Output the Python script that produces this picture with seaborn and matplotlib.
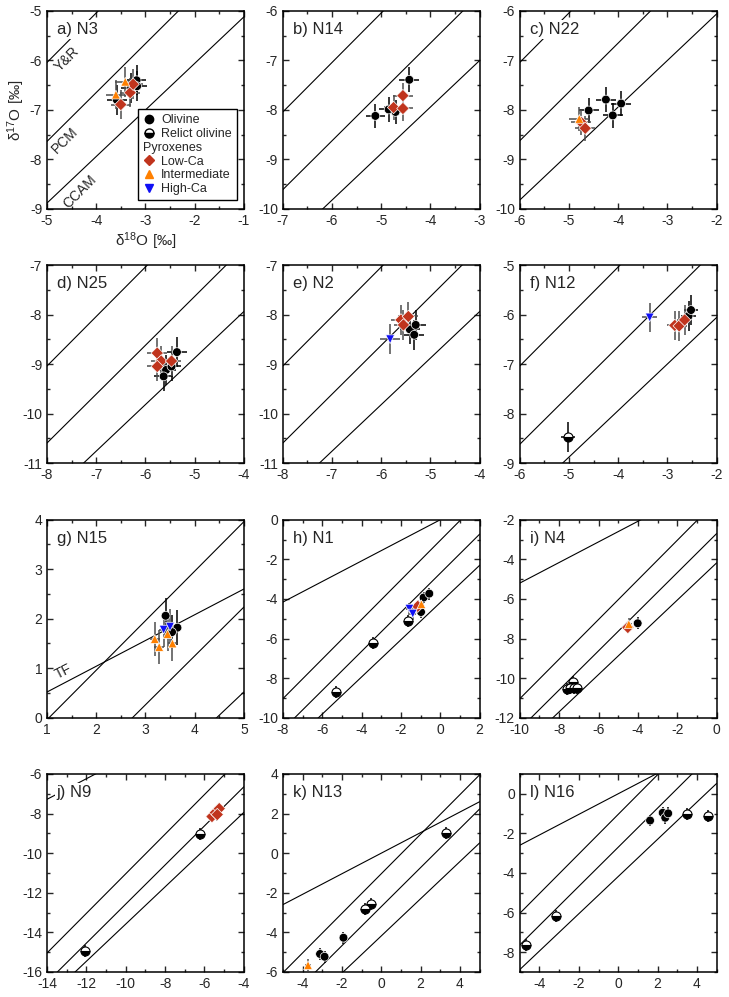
import numpy as np
import pandas as pd
import seaborn as sns
import matplotlib.pyplot as plt
from matplotlib.lines import Line2D
from matplotlib.ticker import MultipleLocator

sns.set_style('ticks')
plt.rcParams['font.family'] = ['Liberation Sans', 'DejaVu Sans']
plt.rcParams['axes.unicode_minus'] = False
plt.rcParams['mathtext.default'] = 'regular'

# panel setup
panel_ids = ['N3', 'N14', 'N22', 'N25', 'N2', 'N12', 'N15', 'N1', 'N4', 'N9', 'N13', 'N16']
panel_letters = ['a', 'b', 'c', 'd', 'e', 'f', 'g', 'h', 'i', 'j', 'k', 'l']
xlims = [(-5, -1), (-7, -3), (-6, -2), (-8, -4), (-8, -4), (-6, -2),
         (1, 5), (-8, 2), (-10, 0), (-14, -4), (-5, 5), (-5, 5)]
ylims = [(-9, -5), (-10, -6), (-10, -6), (-11, -7), (-11, -7), (-9, -5),
         (0, 4), (-10, 0), (-12, -2), (-16, -6), (-6, 4), (-9, 1)]
major_step = [1, 1, 1, 1, 1, 1, 1, 2, 2, 2, 2, 2]
err18 = [0.2, 0.2, 0.2, 0.2, 0.2, 0.15, 0.1, 0.15, 0.15, 0.15, 0.15, 0.15]
err17 = [0.3, 0.25, 0.25, 0.3, 0.3, 0.3, 0.35, 0.3, 0.3, 0.3, 0.3, 0.3]

# reference lines: TF, Y&R, PCM, CCAM
line_names = ['TF', 'Y&R', 'PCM', 'CCAM']
line_slopes = [0.52, 1.0, 0.987, 0.94]
line_intercepts = [0.0, -1.04, -2.70, -4.18]

# olivine
ol_panel = ['N3', 'N3', 'N3', 'N3', 'N14', 'N14', 'N14', 'N14', 'N22', 'N22', 'N22', 'N22',
            'N25', 'N25', 'N25', 'N25', 'N2', 'N2', 'N2', 'N12', 'N12', 'N15', 'N15', 'N15',
            'N1', 'N1', 'N1', 'N4', 'N13', 'N13', 'N13', 'N16', 'N16', 'N16', 'N16']
ol_d18 = [-3.58, -3.29, -3.18, -3.17, -5.12, -4.85, -4.71, -4.43, -4.60, -4.25, -3.94, -4.11,
          -5.58, -5.63, -5.47, -5.36, -5.42, -5.30, -5.33, -2.57, -2.52, 3.41, 3.65, 3.54,
          -0.98, -0.85, -0.56, -4.01, -3.11, -2.88, -1.92, 1.62, 2.26, 2.39, 2.54]
ol_d17 = [-6.80, -6.55, -6.40, -6.52, -8.12, -7.99, -8.04, -7.39, -8.01, -7.79, -7.87, -8.11,
          -9.12, -9.25, -9.05, -8.76, -8.30, -8.21, -8.41, -6.03, -5.91, 2.06, 1.82, 1.73,
          -4.66, -3.93, -3.73, -7.23, -5.09, -5.23, -4.27, -1.35, -0.96, -1.21, -0.99]

# relict olivine
rel_panel = ['N12', 'N1', 'N1', 'N1', 'N4', 'N4', 'N4', 'N4', 'N4', 'N9', 'N9',
             'N13', 'N13', 'N13', 'N16', 'N16', 'N16', 'N16']
rel_d18 = [-5.02, -5.31, -3.40, -1.65, -7.60, -7.45, -7.25, -7.10, -7.30, -12.09, -6.25,
           -0.81, -0.51, 3.28, -4.66, -3.14, 3.51, 4.57]
rel_d17 = [-8.48, -8.72, -6.22, -5.11, -10.55, -10.50, -10.50, -10.52, -10.20, -14.92, -9.05,
           -2.82, -2.55, 1.04, -7.63, -6.18, -1.01, -1.13]

# low-Ca pyroxene
lo_panel = ['N3', 'N3', 'N3', 'N14', 'N14', 'N14', 'N22', 'N22', 'N25', 'N25', 'N25', 'N25',
            'N2', 'N2', 'N2', 'N12', 'N12', 'N12', 'N1', 'N4', 'N9', 'N9', 'N9', 'N9']
lo_d18 = [-3.50, -3.31, -3.25, -4.75, -4.56, -4.56, -4.75, -4.67, -5.76, -5.68, -5.76, -5.47,
          -5.60, -5.45, -5.55, -2.85, -2.76, -2.65, -1.15, -4.51, -5.62, -5.45, -5.25, -5.35]
lo_d17 = [-6.89, -6.65, -6.48, -7.95, -7.97, -7.71, -8.25, -8.37, -8.78, -8.94, -9.05, -8.94,
          -8.11, -8.04, -8.21, -6.22, -6.23, -6.11, -4.37, -7.44, -8.15, -7.95, -7.75, -8.05]

# intermediate pyroxene
mid_panel = ['N3', 'N3', 'N22', 'N15', 'N15', 'N15', 'N15', 'N1', 'N4', 'N13']
mid_d18 = [-3.60, -3.41, -4.79, 3.19, 3.28, 3.45, 3.55, -0.96, -4.46, -3.72]
mid_d17 = [-6.69, -6.43, -8.18, 1.59, 1.43, 1.69, 1.50, -4.27, -7.28, -5.66]

# high-Ca pyroxene
hi_panel = ['N2', 'N12', 'N15', 'N15', 'N1', 'N1']
hi_d18 = [-5.82, -3.36, 3.37, 3.50, -1.57, -1.40]
hi_d17 = [-8.50, -6.06, 1.78, 1.84, -4.49, -4.74]

phase_colors = {'Olivine': 'black', 'Low-Ca': '#C0341D', 'Intermediate': '#FF8000', 'High-Ca': '#1010F5'}
phase_markers = {'Olivine': 'o', 'Low-Ca': 'D', 'Intermediate': '^', 'High-Ca': 'v'}

full = pd.concat([
    pd.DataFrame({'panel': ol_panel, 'd18O': ol_d18, 'd17O': ol_d17, 'phase': 'Olivine'}),
    pd.DataFrame({'panel': lo_panel, 'd18O': lo_d18, 'd17O': lo_d17, 'phase': 'Low-Ca'}),
    pd.DataFrame({'panel': mid_panel, 'd18O': mid_d18, 'd17O': mid_d17, 'phase': 'Intermediate'}),
    pd.DataFrame({'panel': hi_panel, 'd18O': hi_d18, 'd17O': hi_d17, 'phase': 'High-Ca'}),
], ignore_index=True)
relict = pd.DataFrame({'panel': rel_panel, 'd18O': rel_d18, 'd17O': rel_d17})

fig = plt.figure(figsize=(7.29, 9.97), dpi=100)
lefts = [0.0645, 0.388, 0.713]
bottoms = [0.7904, 0.5356, 0.2801, 0.0251]
w, h = 0.270, 0.1986

for i, pid in enumerate(panel_ids):
    ax = fig.add_axes([lefts[i % 3], bottoms[i // 3], w, h])
    xl, yl = xlims[i], ylims[i]

    # reference lines
    xx = np.array(xl, dtype=float)
    for name, m, b in zip(line_names, line_slopes, line_intercepts):
        ax.plot(xx, m * xx + b, color='black', lw=0.8, zorder=1)

    sub = full[full['panel'] == pid]
    rsub = relict[relict['panel'] == pid]

    # error bars
    ecol = np.where(sub['phase'] == 'Olivine', 'black', '#4d4d4d')
    for (_, r), c in zip(sub.iterrows(), ecol):
        ax.errorbar(r['d18O'], r['d17O'], xerr=err18[i], yerr=err17[i], fmt='none',
                    ecolor=c, elinewidth=1.1, capsize=0, zorder=2)
    if len(rsub):
        ax.errorbar(rsub['d18O'], rsub['d17O'], xerr=err18[i], yerr=err17[i], fmt='none',
                    ecolor='black', elinewidth=1.1, capsize=0, zorder=2)

    sns.scatterplot(data=sub, x='d18O', y='d17O', hue='phase', style='phase',
                    palette=phase_colors, markers=phase_markers, s=40,
                    edgecolor='white', linewidth=0.5, legend=False, ax=ax, zorder=3)
    if len(rsub):
        ax.plot(rsub['d18O'], rsub['d17O'], 'o', ms=6.5, fillstyle='bottom',
                markerfacecolor='black', markerfacecoloralt='white',
                markeredgecolor='black', markeredgewidth=0.8, zorder=3)

    ax.set_xlim(xl)
    ax.set_ylim(yl)
    ax.xaxis.set_major_locator(MultipleLocator(major_step[i]))
    ax.yaxis.set_major_locator(MultipleLocator(major_step[i]))
    ax.xaxis.set_minor_locator(MultipleLocator(major_step[i] / 2))
    ax.yaxis.set_minor_locator(MultipleLocator(major_step[i] / 2))
    ax.tick_params(which='both', direction='in', top=True, right=True, width=1, labelsize=10)
    ax.tick_params(which='major', length=4)
    ax.tick_params(which='minor', length=2.5)
    for sp in ax.spines.values():
        sp.set_linewidth(1.1)
        sp.set_color('black')
    ax.set_xlabel('')
    ax.set_ylabel('')

    ax.text(0.05, 0.885, f'{panel_letters[i]}) {pid}', transform=ax.transAxes,
            fontsize=12, ha='left', va='baseline', zorder=5,
            bbox=dict(facecolor='white', edgecolor='none', pad=1.5))

    if i == 0:
        ax.set_xlabel('δ$^{18}$O [‰]', fontsize=11, labelpad=2)
        ax.set_ylabel('δ$^{17}$O [‰]', fontsize=11, labelpad=2)
        ax.text(-4.60, -5.97, 'Y&R', rotation=45, ha='center', va='center', fontsize=10)
        ax.text(-4.64, -7.61, 'PCM', rotation=45, ha='center', va='center', fontsize=10)
        ax.text(-4.33, -8.66, 'CCAM', rotation=45, ha='center', va='center', fontsize=10)
        handles = [
            Line2D([], [], ls='', marker='o', color='black', ms=6, label='Olivine'),
            Line2D([], [], ls='', marker='o', ms=6.5, fillstyle='bottom', markerfacecolor='black',
                   markerfacecoloralt='white', markeredgecolor='black', label='Relict olivine'),
            Line2D([], [], ls='', label='Pyroxenes'),
            Line2D([], [], ls='', marker='D', color=phase_colors['Low-Ca'], ms=5, label='Low-Ca'),
            Line2D([], [], ls='', marker='^', color=phase_colors['Intermediate'], ms=6, label='Intermediate'),
            Line2D([], [], ls='', marker='v', color=phase_colors['High-Ca'], ms=6, label='High-Ca'),
        ]
        leg = ax.legend(handles=handles, loc='lower right', bbox_to_anchor=(0.965, 0.045),
                        borderaxespad=0, fontsize=9, frameon=True, fancybox=False,
                        edgecolor='black', framealpha=1, handlelength=1.0,
                        handletextpad=0.5, labelspacing=0.14, borderpad=0.4)
        leg.get_frame().set_linewidth(1.0)
        # "Pyroxenes" header starts at the marker column: drop its empty handle
        for col in leg._legend_handle_box.get_children():
            for row in col.get_children():
                kids = row.get_children()
                if len(kids) == 2 and hasattr(kids[1], 'get_text') and kids[1].get_text() == 'Pyroxenes':
                    row._children = [kids[1]]
    if i == 6:
        ax.text(1.34, 0.93, 'TF', rotation=27, ha='center', va='center', fontsize=10)

fig.savefig('out.png', dpi=100)
